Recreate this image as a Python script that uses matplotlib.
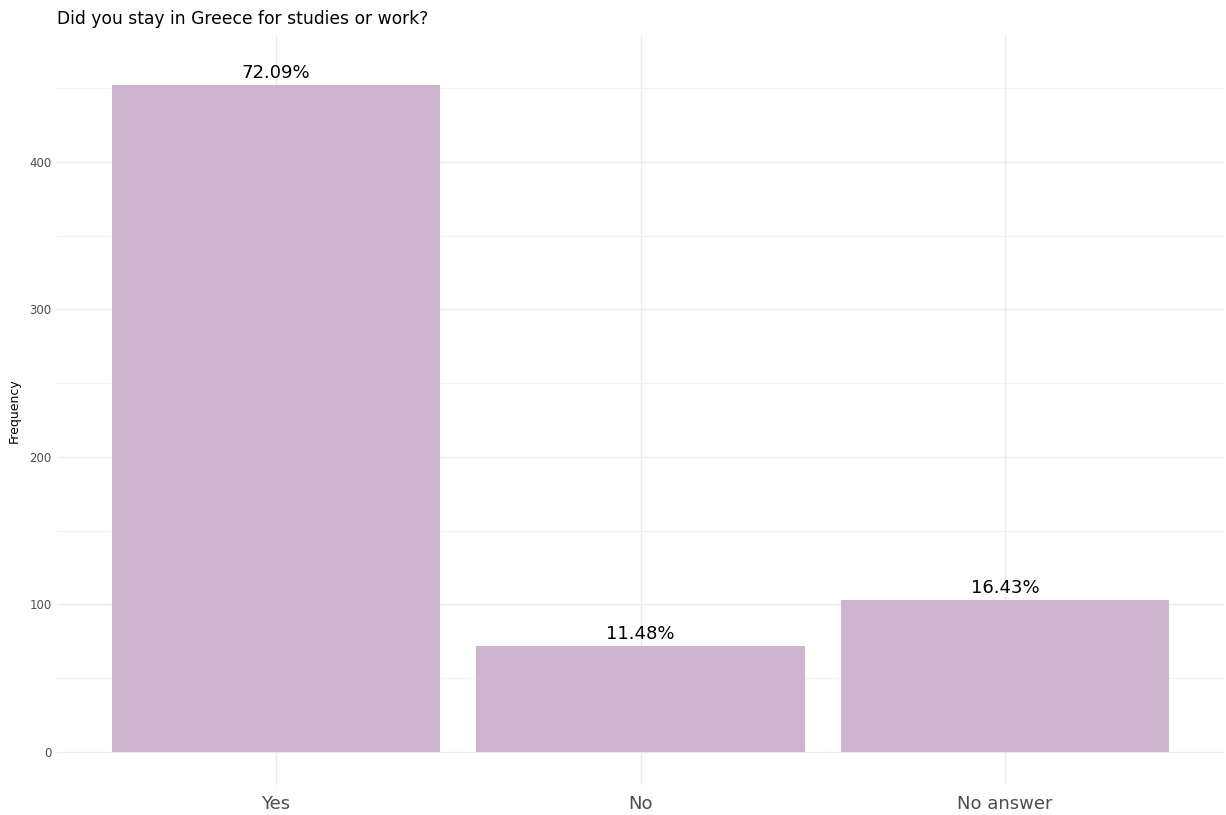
import matplotlib
matplotlib.use("Agg")
import matplotlib.pyplot as plt

categories = ["Yes", "No", "No answer"]
counts = [452, 72, 103]
pct_labels = ["72.09%", "11.48%", "16.43%"]
yticks = [0, 100, 200, 300, 400]
minor_yticks = [50, 150, 250, 350, 450]

W, H = 1226, 815
fig = plt.figure(figsize=(W/100, H/100), dpi=100)
ax = fig.add_axes([57/W, (H-785)/H, (1224-57)/W, (785-36)/H])

x = list(range(1, len(categories)+1))
ax.bar(x, counts, width=0.9, color="#CDB5CD", zorder=2)
for xi, c, lab in zip(x, counts, pct_labels):
    ax.annotate(lab, (xi, c), xytext=(0, 2), textcoords="offset points",
                ha="center", va="bottom", fontsize=13, color="black", zorder=3)

ax.set_xlim(0.4, 3.6)
ax.set_ylim(-22.4, 485.4)
ax.set_xticks(x)
ax.set_xticklabels(categories, fontsize=13, color="#4D4D4D")
ax.set_yticks(yticks)
ax.set_yticklabels([str(v) for v in yticks], fontsize=8.5, color="#4D4D4D")
ax.set_yticks(minor_yticks, minor=True)
ax.tick_params(axis="both", length=0, which="both")
ax.tick_params(axis="x", pad=7)
ax.tick_params(axis="y", pad=4)
ax.grid(True, which="major", color="#EBEBEB", linewidth=1.0, zorder=0)
ax.grid(True, which="minor", axis="y", color="#F2F2F2", linewidth=0.8, zorder=0)
for s in ax.spines.values():
    s.set_visible(False)
ax.set_ylabel("Frequency", fontsize=9, labelpad=6)
fig.text(57/W, 1-19/H, "Did you stay in Greece for studies or work?", fontsize=12.3,
         ha="left", va="center")

fig.savefig("out.png", dpi=100)
